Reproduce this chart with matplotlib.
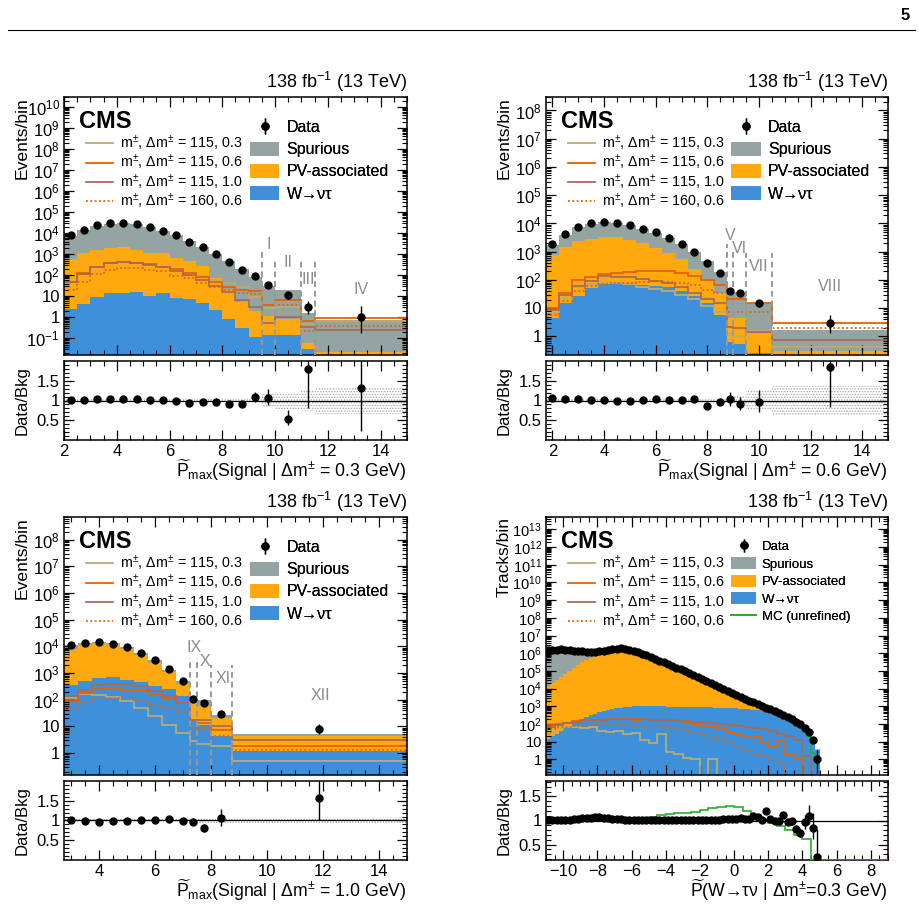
import numpy as np
import matplotlib
matplotlib.use('Agg')
import matplotlib.pyplot as plt
from matplotlib.lines import Line2D
from matplotlib.patches import Patch
from matplotlib.ticker import LogLocator, MultipleLocator, FuncFormatter, FixedLocator

plt.rcParams['font.family'] = ['Liberation Sans', 'DejaVu Sans']
plt.rcParams['mathtext.fontset'] = 'custom'
plt.rcParams['mathtext.rm'] = 'Liberation Sans'
plt.rcParams['mathtext.it'] = 'Liberation Sans:italic'
plt.rcParams['mathtext.bf'] = 'Liberation Sans:bold'
plt.rcParams['mathtext.sf'] = 'Liberation Sans'
plt.rcParams['hatch.linewidth'] = 0.6

# colours (CMS palette)
C_SPUR = '#94a4a2'
C_PV = '#ffa90e'
C_W = '#3f90da'
C_S03 = '#b9ac70'
C_S06 = '#e76300'
C_S10 = '#a96b59'
C_MC = '#2eaa2e'
C_REG = '#999999'

# ---------------- top left: dm = 0.3 GeV
p1_edges = [2.0, 2.5, 3.0, 3.5, 4.0, 4.5, 5.0, 5.5, 6.0, 6.5, 7.0, 7.5, 8.0, 8.5, 9.0, 9.5, 10.0, 11.0, 11.5, 15.0]
p1_data = [7800, 14500, 24000, 29000, 31000, 27000, 19500, 12900, 7800, 4000, 2100, 1000, 420, 178, 87, 33, 11, 3, 1]
p1_ratio = [1.02, 1.02, 1.05, 1.04, 1.05, 1.03, 1.01, 1.02, 0.99, 0.93, 0.95, 0.95, 0.90, 0.92, 1.08, 1.07, 0.54, 1.80, 1.31]
p1_w = [2.5, 4.2, 8.7, 13.8, 14.8, 16.6, 10.5, 14.8, 7.9, 7.2, 4.7, 2.1, 0.79, 0.32, 0.12, 0.14, 0.14, 0.030, 0.001]
p1_w_pv = [600, 1200, 1600, 1950, 2100, 1600, 1120, 1120, 650, 450, 260, 71, 20, 5.6, 2.0, 1.15, 0.79, 0.058, 0.023]
p1_unc = [0.05] * 15 + [0.17, 0.22, 0.27, 0.33]
p1_s115_03 = [48, 120, 251, 380, 427, 380, 316, 251, 191, 132, 89, 60, 42, 28, 9.5, 2.8, 3.0, 0.5, 0.7]
p1_s115_06 = [50, 126, 257, 398, 447, 398, 331, 257, 195, 126, 79, 48, 29, 20, 17.8, 3.9, 6.8, 0.63, 0.89]
p1_s115_10 = [45, 112, 240, 380, 417, 398, 316, 240, 166, 100, 60, 32, 15.8, 6.8, 3.2, 0.51, 1.07, 0.36, 0.25]
p1_s160_06 = [20, 50, 115, 178, 214, 214, 178, 158, 95, 72, 42, 29, 20, 14.8, 12.9, 3.9, 3.9, 0.21, 0.39]
p1_reg_x = [9.5, 10.0, 11.0, 11.5]
p1_reg_top = [1350, 540, 540, 540]
p1_reg_names = ['I', 'II', 'III', 'IV']
p1_reg_lx = [9.75, 10.5, 11.25, 13.25]
p1_reg_ly = [2750, 400, 65, 20]

# ---------------- top right: dm = 0.6 GeV
p2_edges = [1.75, 2.25, 2.75, 3.25, 3.75, 4.25, 4.75, 5.25, 5.75, 6.25, 6.75, 7.25, 7.75, 8.25, 8.75, 9.0, 9.5, 10.5, 15.0]
p2_data = [1860, 4200, 7600, 10000, 11500, 10500, 8700, 6600, 4800, 3100, 1860, 1000, 410, 182, 42, 35, 15, 3]
p2_ratio = [1.06, 1.05, 1.04, 1.02, 1.01, 1.00, 0.99, 1.01, 1.03, 1.01, 1.01, 1.03, 0.87, 0.95, 1.03, 0.91, 0.95, 1.85]
p2_w = [4.5, 15, 28, 51, 71, 76, 76, 66, 62, 54, 39, 28, 15, 5.8, 0.66, 0.55, 0.26, 0.1]
p2_w_pv = [760, 1500, 2450, 2800, 3200, 3200, 2600, 2100, 1400, 910, 540, 240, 100, 35, 4.5, 4.5, 1.3, 0.3]
p2_unc = [0.05] * 14 + [0.10, 0.12, 0.25, 0.37]
p2_s115_03 = [6.6, 22, 55, 72, 87, 79, 72, 58, 47, 39, 30, 21, 11.5, 7.6, 1.23, 1.05, 1.5, 0.42]
p2_s115_06 = [10, 34, 100, 132, 162, 182, 191, 209, 209, 200, 182, 138, 100, 66, 21, 21, 15.8, 3.0]
p2_s115_10 = [8.7, 30, 62, 95, 138, 132, 126, 112, 95, 76, 58, 34, 21, 15.8, 2.2, 1.95, 1.38, 0.76]
p2_s160_06 = [5.8, 17.4, 39, 62, 72, 76, 79, 87, 91, 87, 76, 66, 45, 34, 7.1, 7.1, 7.2, 1.95]
p2_reg_x = [8.75, 9.0, 9.5, 10.5]
p2_reg_top = [1950, 1000, 870, 870]
p2_reg_names = ['V', 'VI', 'VII', 'VIII']
p2_reg_lx = [8.875, 9.25, 10.0, 12.75]
p2_reg_ly = [3600, 1300, 295, 58]

# ---------------- bottom left: dm = 1.0 GeV
p3_edges = [2.75, 3.25, 3.75, 4.25, 4.75, 5.25, 5.75, 6.25, 6.75, 7.25, 7.5, 8.0, 8.75, 15.0]
p3_data = [10700, 13500, 14100, 12600, 9100, 5600, 3100, 1380, 510, 107, 76, 29, 8]
p3_ratio = [1.0, 0.98, 0.97, 0.98, 0.99, 1.0, 1.02, 1.05, 0.99, 0.97, 0.81, 1.06, 1.56]
p3_w = [360, 490, 650, 680, 560, 450, 320, 250, 141, 15.5, 11.5, 4.2, 1.23]
p3_w_pv = [7900, 11500, 13500, 12000, 7900, 4900, 2400, 1070, 400, 87, 56, 20, 4.5]
p3_unc = [0.05] * 9 + [0.06, 0.06, 0.06, 0.08]
p3_s115_03 = [115, 166, 155, 126, 87, 49, 24, 11.5, 5.6, 2.75, 2.24, 1.78, 0.49]
p3_s115_06 = [87, 178, 251, 263, 240, 204, 155, 107, 76, 15.5, 13.5, 7.6, 1.9]
p3_s115_10 = [132, 240, 363, 398, 380, 316, 204, 132, 76, 17.8, 17.8, 10, 3.0]
p3_s160_06 = [43, 76, 115, 120, 115, 87, 65, 49, 34, 8.7, 7.9, 4.5, 1.35]
p3_reg_x = [7.25, 7.5, 8.0, 8.75]
p3_reg_top = [3600, 3600, 2000, 2000]
p3_reg_names = ['IX', 'X', 'XI', 'XII']
p3_reg_lx = [7.4, 7.8, 8.42, 11.9]
p3_reg_ly = [8700, 2750, 600, 140]

# ---------------- bottom right: W -> tau nu tracks
p4_edges = np.linspace(-11.0, 5.0, 65)
p4_data = [1.5e6, 1.5e6, 1.6e6, 1.7e6, 1.6e6, 1.5e6, 1.4e6, 1.3e6, 1.3e6, 1.2e6,
           1.2e6, 1.2e6, 1.3e6, 1.4e6, 1.6e6, 1.7e6, 1.8e6, 1.9e6, 1.8e6, 1.6e6,
           1.4e6, 1.15e6, 9.3e5, 7.6e5, 6.0e5, 4.8e5, 3.8e5, 3.0e5, 2.4e5, 1.9e5,
           1.5e5, 1.2e5, 9.3e4, 7.4e4, 5.8e4, 4.5e4, 3.5e4, 2.7e4, 2.1e4, 1.6e4,
           1.15e4, 8.9e3, 6.9e3, 5.4e3, 4.2e3, 3.3e3, 2.6e3, 2.1e3, 1.7e3, 1.3e3,
           1050, 830, 660, 520, 400, 320, 240, 180, 135, 95,
           56, 36, 13, 1]
p4_ratio = [1.02, 1.02, 1.02, 1.01, 1.01, 1.02, 1.03, 1.04, 1.05, 1.06,
            1.06, 1.07, 1.07, 1.06, 1.05, 1.04, 1.03, 1.03, 1.02, 1.02,
            1.02, 1.02, 1.02, 1.02, 1.02, 1.02, 1.02, 1.02, 1.02, 1.02,
            1.02, 1.01, 1.01, 1.01, 1.02, 1.01, 1.01, 1.02, 1.01, 1.02,
            1.01, 1.03, 1.04, 1.03, 1.03, 1.05, 1.03, 1.04, 1.10, 1.08,
            1.01, 1.19, 1.03, 1.00, 0.99, 1.12, 0.97, 0.98, 0.83, 0.74,
            0.96, 1.10, 0.85, 0.25]
p4_w = [15, 20, 28, 40, 56, 79, 110, 150, 190, 250,
        320, 380, 450, 520, 600, 690, 760, 830, 890, 950,
        1000, 1020, 1050, 1050, 1050, 1020, 1000, 980, 950, 930,
        910, 890, 890, 890, 890, 890, 890, 870, 870, 850,
        830, 810, 790, 780, 760, 720, 690, 660, 630, 590,
        550, 500, 470, 450, 360, 255, 220, 165, 145, 113,
        50, 28, 13.5, 3.4]
p4_w_pv = [1.3e4, 2.0e4, 3.0e4, 4.6e4, 6.9e4, 1.05e5, 1.5e5, 2.1e5, 3.0e5, 4.2e5,
           5.6e5, 7.4e5, 9.3e5, 1.15e6, 1.35e6, 1.5e6, 1.6e6, 1.65e6, 1.6e6, 1.5e6,
           1.25e6, 1.03e6, 8.4e5, 6.8e5, 5.4e5, 4.3e5, 3.4e5, 2.7e5, 2.15e5, 1.7e5,
           1.35e5, 1.09e5, 8.5e4, 6.7e4, 5.2e4, 4.1e4, 3.2e4, 2.4e4, 1.9e4, 1.45e4,
           1.05e4, 7.9e3, 6.1e3, 4.8e3, 3.8e3, 2.9e3, 2.3e3, 1.85e3, 1.42e3, 1.1e3,
           950, 640, 590, 480, 372, 263, 227, 169, 150, 118,
           53, 30, 14.7, 3.7]
p4_sig_edges = np.linspace(-11.0, 9.0, 41)
p4_s115_03 = [32, 50, 63, 71, 56, 63, 40, 35, 40, 28,
              32, 12.6, 8.9, 28, 2.5, 2.0, 1.26, 1.0, 0, 1.0] + [0] * 20
p4_s115_06 = [89, 100, 112, 141, 158, 178, 178, 200, 190, 200,
              178, 190, 166, 178, 158, 141, 126, 100, 71, 63,
              50, 32, 28, 22, 20, 10, 5.6, 11, 2.0, 1.0] + [0] * 10
p4_s115_10 = [71, 89, 112, 126, 158, 178, 178, 200, 200, 190,
              200, 190, 178, 178, 166, 158, 141, 132, 126, 112,
              100, 89, 79, 63, 56, 50, 40, 28, 20, 12.6,
              1.6] + [0] * 9
p4_s160_06 = [50, 63, 71, 79, 79, 83, 89, 89, 89, 83,
              79, 76, 71, 63, 56, 50, 40, 32, 25, 18,
              12.6, 7.9, 5.0, 3.5, 2.0, 1.6, 1.1, 0.63] + [0] * 12
p4_mc_ratio = [1.0, 0.99, 0.99, 1.0, 1.01, 1.03, 1.03, 1.01, 0.99, 0.97,
               0.98, 1.03, 1.08, 1.12, 1.14, 1.15, 1.16, 1.18, 1.21, 1.25,
               1.28, 1.30, 1.28, 1.20, 1.10, 1.01, 0.95, 0.89, 0.80, 0.70,
               0.62, 0.15] + [0] * 8

sig_labels = [r'm$^{\pm}$, $\Delta$m$^{\pm}$ = 115, 0.3',
              r'm$^{\pm}$, $\Delta$m$^{\pm}$ = 115, 0.6',
              r'm$^{\pm}$, $\Delta$m$^{\pm}$ = 115, 1.0',
              r'm$^{\pm}$, $\Delta$m$^{\pm}$ = 160, 0.6']
sig_styles = [(C_S03, '-'), (C_S06, '-'), (C_S10, '-'), (C_S06, (0, (1, 1.4)))]

ratio_major = [0.5, 1.0, 1.5]
ratio_minor = [0.1, 0.2, 0.3, 0.4, 0.6, 0.7, 0.8, 0.9, 1.1, 1.2, 1.3, 1.4, 1.6, 1.7, 1.8, 1.9]


def poisson_err(n):
    # approximate Garwood interval
    n = np.asarray(n, float)
    lo = n * (1 - 1 / (9 * n) - 1 / (3 * np.sqrt(n))) ** 3
    hi = (n + 1) * (1 - 1 / (9 * (n + 1)) + 1 / (3 * np.sqrt(n + 1))) ** 3
    return n - lo, hi - n


def log_fmt(v, pos):
    e = int(round(np.log10(v)))
    if e == 0:
        return '1'
    if e == 1:
        return '10'
    return r'$10^{%d}$' % e


def style(ax, xlim):
    ax.set_xlim(*xlim)
    ax.xaxis.set_major_locator(MultipleLocator(2))
    ax.xaxis.set_minor_locator(MultipleLocator(0.5))
    ax.tick_params(which='both', direction='in', top=True, right=True, labelsize=12, pad=3)
    ax.tick_params(which='major', length=7, width=0.9)
    ax.tick_params(which='minor', length=3.5, width=0.8)
    for s in ax.spines.values():
        s.set_linewidth(1.1)


def draw_main(ax, edges, data, ratio, w, w_pv, sigs, sig_edges, ylim, xlim, ylabel,
              regions=None, mc_ratio=None, legend_font=11.5, legend_top=0.913, legend_space=0.41,
              ytick_size=12):
    edges = np.asarray(edges, float)
    data = np.asarray(data, float)
    total = data / np.asarray(ratio, float)
    ax.set_yscale('log', nonpositive='clip')
    base = ylim[0] * 1e-3
    ax.stairs(total, edges, baseline=base, fill=True, color=C_SPUR, lw=0, zorder=1)
    ax.stairs(w_pv, edges, baseline=base, fill=True, color=C_PV, lw=0, zorder=1.1)
    ax.stairs(w, edges, baseline=base, fill=True, color=C_W, lw=0, zorder=1.2)
    sig_handles = []
    for vals, (col, ls) in zip(sigs, sig_styles):
        ax.stairs(vals, sig_edges, baseline=None, color=col, ls=ls, lw=1.3, zorder=2.5)
        sig_handles.append(Line2D([], [], color=col, ls=ls, lw=1.3))
    if mc_ratio is not None:
        mc_fine = total * np.repeat(np.asarray(mc_ratio, float)[:len(total) // 2], 2)
        ax.stairs(mc_fine, edges, baseline=None, color=C_MC, lw=1.2, zorder=2.6)
    if regions is not None:
        rx, rtop, rnames, rlx, rly = regions
        ax.vlines(rx, ylim[0], rtop, colors=C_REG, linestyles=(0, (3, 2)), lw=1.4, zorder=3)
        for name, lx, ly in zip(rnames, rlx, rly):
            ax.text(lx, ly, name, color='#8c8c8c', fontsize=11.5, ha='center', va='center', zorder=3)
    centers = 0.5 * (edges[:-1] + edges[1:])
    lo, hi = poisson_err(data)
    cont = ax.errorbar(centers, data, yerr=[lo, hi], fmt='o', color='k', ms=5,
                       elinewidth=1.0, capsize=0, zorder=5)
    ax.set_ylim(*ylim)
    style(ax, xlim)
    # only decades inside the visible range get a label
    lo_e = int(np.ceil(np.log10(ylim[0])))
    hi_e = int(np.floor(np.log10(ylim[1])))
    ax.yaxis.set_major_locator(FixedLocator(10.0 ** np.arange(lo_e, hi_e + 1)))
    ax.yaxis.set_minor_locator(LogLocator(base=10, subs=np.arange(2, 10) * 1.0, numticks=60))
    ax.yaxis.set_major_formatter(FuncFormatter(log_fmt))
    ax.tick_params(axis='y', labelsize=ytick_size)
    ax.tick_params(labelbottom=False)
    ax.set_ylabel(ylabel, fontsize=12.6, loc='top')
    ax.yaxis.set_label_coords(-0.1, 1.0)

    ax.text(0.045, 0.95, 'CMS', transform=ax.transAxes, fontsize=17, fontweight='bold',
            ha='left', va='top')
    ax.text(1.0, 1.012, r'138 fb$^{-1}$ (13 TeV)', transform=ax.transAxes, fontsize=13,
            ha='right', va='bottom')

    leg1 = ax.legend(sig_handles, sig_labels, loc='upper left', bbox_to_anchor=(0.064, 0.858),
                     frameon=False, fontsize=10.3, handlelength=1.9, handletextpad=0.5,
                     labelspacing=0.0, borderpad=0, borderaxespad=0)
    ax.add_artist(leg1)
    handles = [cont, Patch(color=C_SPUR, lw=0), Patch(color=C_PV, lw=0), Patch(color=C_W, lw=0)]
    labels = ['Data', 'Spurious', 'PV-associated', 'W→ντ']
    if mc_ratio is not None:
        handles.append(Line2D([], [], color=C_MC, lw=1.3))
        labels.append('MC (unrefined)')
    leg2 = ax.legend(handles, labels, loc='upper left', bbox_to_anchor=(0.542, legend_top),
                     frameon=False, fontsize=legend_font, handlelength=1.85, handleheight=1.0,
                     handletextpad=0.45, labelspacing=legend_space, borderpad=0, borderaxespad=0)
    ax.add_artist(leg2)


def draw_ratio(ax, edges, data, ratio, unc, xlim, xlabel, ylim=(0.01, 1.99), mc_ratio=None, mc_edges=None):
    edges = np.asarray(edges, float)
    data = np.asarray(data, float)
    ratio = np.asarray(ratio, float)
    ax.axhline(1.0, color='k', lw=0.9, zorder=2)
    if unc is not None:
        u = np.append(unc, unc[-1])
        ax.fill_between(edges, 1 - u, 1 + u, step='post', facecolor='none', hatch='......',
                        edgecolor='#a0a0a0', linewidth=0, zorder=1)
    if mc_ratio is not None:
        ax.stairs(np.clip(mc_ratio, ylim[0] + 0.006, None), mc_edges, baseline=None,
                  color=C_MC, lw=1.2, zorder=3)
    centers = 0.5 * (edges[:-1] + edges[1:])
    lo, hi = poisson_err(data)
    ax.errorbar(centers, ratio, yerr=[ratio * lo / data, ratio * hi / data], fmt='o', color='k',
                ms=5, elinewidth=1.0, capsize=0, zorder=5)
    ax.set_ylim(*ylim)
    style(ax, xlim)
    ax.yaxis.set_major_locator(FixedLocator(ratio_major))
    ax.yaxis.set_minor_locator(FixedLocator(ratio_minor))
    ax.yaxis.set_major_formatter(FuncFormatter(lambda v, p: '%g' % v))
    ax.set_ylabel('Data/Bkg', fontsize=12)
    ax.yaxis.set_label_coords(-0.1, 0.5)
    ax.set_xlabel(xlabel, fontsize=12.7, loc='right', va='center')
    ax.xaxis.set_label_coords(1.0, -0.38)


W_PX, H_PX = 920.0, 910.0


def rect(l, t, w, h):
    return [l / W_PX, 1 - (t + h) / H_PX, w / W_PX, h / H_PX]


fig = plt.figure(figsize=(9.2, 9.1), dpi=100)

ax1 = fig.add_axes(rect(64, 97, 343, 258))
ax1r = fig.add_axes(rect(64, 361, 343, 79))
ax2 = fig.add_axes(rect(546, 97, 342, 258))
ax2r = fig.add_axes(rect(546, 361, 342, 79))
ax3 = fig.add_axes(rect(64, 517, 343, 258))
ax3r = fig.add_axes(rect(64, 781, 343, 79))
ax4 = fig.add_axes(rect(546, 517, 342, 258))
ax4r = fig.add_axes(rect(546, 781, 342, 79))

draw_main(ax1, p1_edges, p1_data, p1_ratio, p1_w, p1_w_pv,
          [p1_s115_03, p1_s115_06, p1_s115_10, p1_s160_06], p1_edges,
          (0.016, 3e10), (2, 15), 'Events/bin',
          regions=(p1_reg_x, p1_reg_top, p1_reg_names, p1_reg_lx, p1_reg_ly))
draw_ratio(ax1r, p1_edges, p1_data, p1_ratio, p1_unc, (2, 15),
           r'$\widetilde{\mathrm{P}}_{\mathrm{max}}$(Signal | $\Delta$m$^{\pm}$ = 0.3 GeV)')

draw_main(ax2, p2_edges, p2_data, p2_ratio, p2_w, p2_w_pv,
          [p2_s115_03, p2_s115_06, p2_s115_10, p2_s160_06], p2_edges,
          (0.22, 3e8), (1.75, 15), 'Events/bin',
          regions=(p2_reg_x, p2_reg_top, p2_reg_names, p2_reg_lx, p2_reg_ly))
draw_ratio(ax2r, p2_edges, p2_data, p2_ratio, p2_unc, (1.75, 15),
           r'$\widetilde{\mathrm{P}}_{\mathrm{max}}$(Signal | $\Delta$m$^{\pm}$ = 0.6 GeV)')

draw_main(ax3, p3_edges, p3_data, p3_ratio, p3_w, p3_w_pv,
          [p3_s115_03, p3_s115_06, p3_s115_10, p3_s160_06], p3_edges,
          (0.15, 7e8), (2.75, 15), 'Events/bin',
          regions=(p3_reg_x, p3_reg_top, p3_reg_names, p3_reg_lx, p3_reg_ly))
draw_ratio(ax3r, p3_edges, p3_data, p3_ratio, p3_unc, (2.75, 15),
           r'$\widetilde{\mathrm{P}}_{\mathrm{max}}$(Signal | $\Delta$m$^{\pm}$ = 1.0 GeV)')

draw_main(ax4, p4_edges, p4_data, p4_ratio, p4_w, p4_w_pv,
          [p4_s115_03, p4_s115_06, p4_s115_10, p4_s160_06], p4_sig_edges,
          (0.13, 5e13), (-11, 9), 'Tracks/bin', mc_ratio=p4_mc_ratio,
          legend_font=9.5, legend_top=0.911, legend_space=0.3, ytick_size=10.5)
draw_ratio(ax4r, p4_edges, p4_data, p4_ratio, None, (-11, 9),
           r'$\widetilde{\mathrm{P}}$(W→τν | $\Delta$m$^{\pm}$=0.3 GeV)',
           ylim=(0.18, 1.82), mc_ratio=p4_mc_ratio, mc_edges=p4_sig_edges)

# page header
fig.add_artist(Line2D([8 / W_PX, 915 / W_PX], [1 - 30 / H_PX] * 2, color='k', lw=0.8))
fig.text(905 / W_PX, 1 - 15 / H_PX, '5', fontsize=12, fontweight='bold', ha='center', va='center')

fig.savefig('out.png', dpi=100)
